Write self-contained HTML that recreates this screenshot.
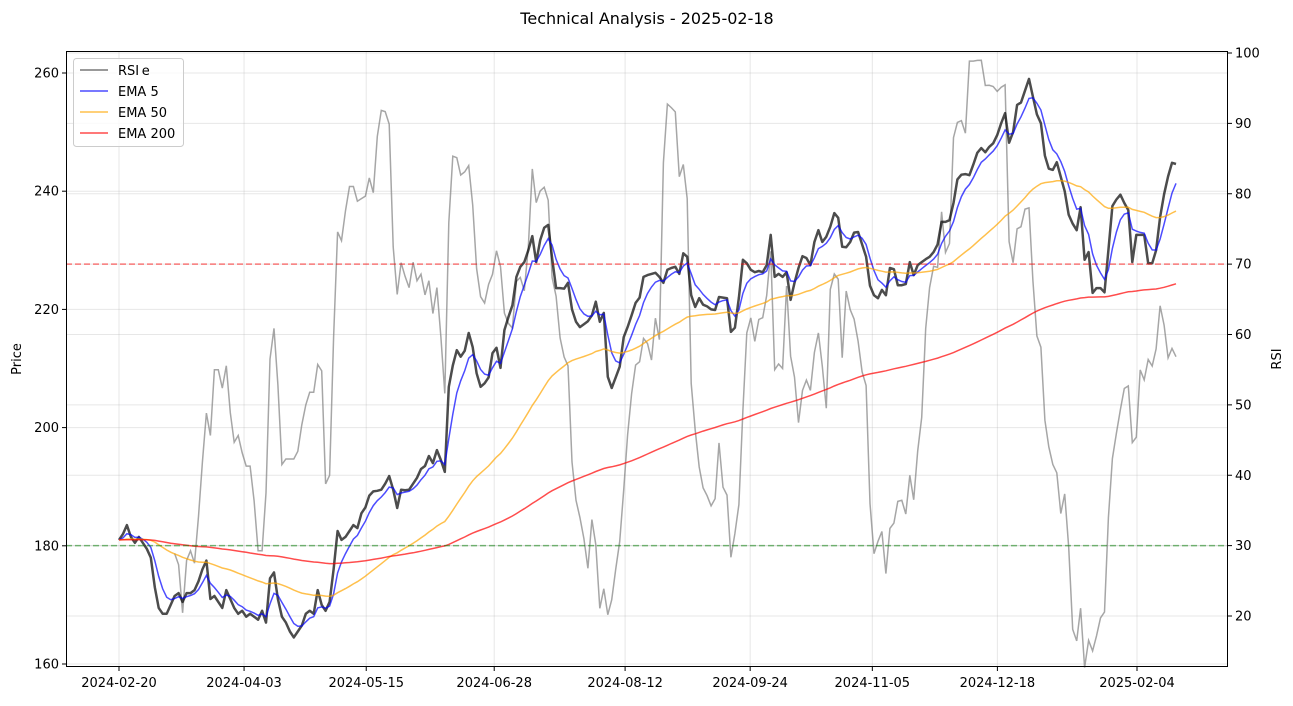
<!DOCTYPE html>
<html><head><meta charset="utf-8"><style>
body{margin:0;background:#fff;font-family:"Liberation Sans","DejaVu Sans",sans-serif;}
svg text{font-family:"DejaVu Sans","Liberation Sans",sans-serif;}
</style></head><body>
<svg id="chart" width="1293" height="701" xmlns="http://www.w3.org/2000/svg">
<text x="647" y="24" text-anchor="middle" font-size="16">Technical Analysis - 2025-02-18</text>
<g id="grid"></g>
<g id="series"></g>
<rect x="66.5" y="51.5" width="1161" height="615" fill="none" stroke="#000" stroke-width="1"/>
<g id="axes"></g>
<text transform="translate(21,359) rotate(-90)" text-anchor="middle" font-size="13">Price</text>
<text transform="translate(1281,359) rotate(-90)" text-anchor="middle" font-size="13">RSI</text>
<g id="legend">
<rect x="73.5" y="58.5" width="110" height="88" rx="3" fill="#fff" fill-opacity="0.8" stroke="#ccc"/>
<line x1="80" y1="70" x2="108" y2="70" stroke="gray" stroke-opacity="0.8" stroke-width="2"/>
<text x="118" y="75" font-size="13">Price</text>
<rect x="117" y="62" width="24" height="16" fill="#fff"/>
<text x="118" y="75" font-size="13">RSI</text>
<line x1="80" y1="91" x2="108" y2="91" stroke="blue" stroke-opacity="0.7" stroke-width="1.5"/>
<text x="118" y="96" font-size="13">EMA 5</text>
<line x1="80" y1="112" x2="108" y2="112" stroke="orange" stroke-opacity="0.7" stroke-width="1.5"/>
<text x="118" y="117" font-size="13">EMA 50</text>
<line x1="80" y1="133" x2="108" y2="133" stroke="red" stroke-opacity="0.7" stroke-width="1.5"/>
<text x="118" y="138" font-size="13">EMA 200</text>
</g>
</svg>
<script>
const closes=[181,182,183.5,181.5,180.5,181.5,180.5,179.5,178,173,169.5,168.5,168.5,170,171.5,172,170.5,172,172,172.5,174,176,177.5,171,171.5,170.5,169.5,172.5,171,169.5,168.5,169,168,168.5,168,167.5,169,167,174.5,175.5,171,168,167,165.5,164.5,165.5,166.5,168.5,169,168.5,172.5,170,169,170.5,176,182.5,181,181.5,182.5,183.5,183,185.5,186.5,188.5,189.2,189.3,189.5,190.5,191.8,189.5,186.4,189.5,189.4,189.5,190.5,191.5,193,193.5,195.2,194,196.2,194.5,192.5,206.9,210.5,213.1,212,213,216,213.6,209.2,206.9,207.5,208.5,212.6,213.5,210.1,216.5,218.7,220.7,225.5,227.2,228,230,232.4,228,231.7,233.8,234.3,228.7,223.6,223.6,223.5,224.5,220,217.9,217,217.5,218,219,221.3,217.9,219.4,208.6,206.7,208.5,210.3,215.3,217,219,221.1,222,225.5,225.8,226,226.2,225.5,224.5,226.7,227,227.2,226,229.5,228.9,222.4,220.4,221.9,220.8,220.5,220,219.9,222.1,222,221.9,216.2,216.9,222,228.4,227.8,226.7,226.3,226.5,226.3,227.5,232.6,225.5,226,225.5,226.3,221.6,224.5,227,229,228.7,227.5,231.4,233.4,231.4,232.3,234,236.3,235.5,230.6,230.5,231.4,233,233.1,231,228.9,224,222.4,221.9,223.3,222.4,227,226.8,224.1,224.1,224.3,228,225.8,227.5,228,228.5,228.9,229.7,231,234.8,234.8,235.1,238,242,242.8,242.9,242.7,244.5,246.5,247.3,246.6,247.5,248.1,249.5,251.5,253.2,248.2,250,254.6,255,257,259,256,253,251.5,246,243.8,243.6,244.9,242.4,240,236,234.5,233.4,237.3,228.4,229.7,222.8,223.6,223.6,222.9,230,237.5,238.6,239.4,238,236.8,228,232.6,232.6,232.6,227.8,227.8,230,235.6,239.5,242.5,244.8,244.6];
const tickDates=["2024-02-20","2024-04-03","2024-05-15","2024-06-28","2024-08-12","2024-09-24","2024-11-05","2024-12-18","2025-02-04"];
const priceTicks=[160,180,200,220,240,260];
const rsiTicks=[20,30,40,50,60,70,80,90,100];
const rsiLevels=[70,30];
const emaSpans=[5,50,200];

const NS="http://www.w3.org/2000/svg";
const L=66,R=1228,T=51,B=667;
const xFirst=119,xLast=1176;
const xIdx=i=>xFirst+i*(xLast-xFirst)/(closes.length-1);
const d0=Date.parse("2024-02-20"),pxPerDay=2.9086;
const xDate=s=>xFirst+(Date.parse(s)-d0)/86400000*pxPerDay;
const yP=v=>73+(260-v)*5.91;
const yR=v=>53+(100-v)*7.0375;
function mk(tag,attrs,parent){const e=document.createElementNS(NS,tag);for(const k in attrs)e.setAttribute(k,attrs[k]);parent.appendChild(e);return e;}
const grid=document.getElementById('grid'),axes=document.getElementById('axes'),series=document.getElementById('series');

tickDates.forEach(d=>{const x=xDate(d);
 const g=mk('line',{x1:x,x2:x,y1:T,y2:B,stroke:'#b0b0b0','stroke-opacity':0.3,'stroke-width':1},grid);
 
 mk('line',{x1:x,x2:x,y1:B,y2:B+4,stroke:'#000'},axes);
 const t=mk('text',{x:x,y:B+20,'text-anchor':'middle','font-size':13},axes);t.textContent=d;
 });
priceTicks.forEach(v=>{const y=yP(v);
 const g=mk('line',{x1:L,x2:R,y1:y,y2:y,stroke:'#b0b0b0','stroke-opacity':0.3},grid);
 
 mk('line',{x1:L-4,x2:L,y1:y,y2:y,stroke:'#000'},axes);
 const t=mk('text',{x:L-7,y:y+4.5,'text-anchor':'end','font-size':13},axes);t.textContent=v;
 });
rsiTicks.forEach(v=>{const y=yR(v);
 const g=mk('line',{x1:L,x2:R,y1:y,y2:y,stroke:'#b0b0b0','stroke-opacity':0.3},grid);
 
 mk('line',{x1:R,x2:R+4,y1:y,y2:y,stroke:'#000'},axes);
 const t=mk('text',{x:R+7,y:y+4.5,'font-size':13},axes);t.textContent=v;
 });

function ema(arr,span){const a=2/(span+1);const o=[arr[0]];for(let i=1;i<arr.length;i++)o.push(a*arr[i]+(1-a)*o[i-1]);return o;}
function rsi(arr,n){const o=[];for(let i=0;i<arr.length;i++){if(i<n){o.push(null);continue;}let g=0,l=0;for(let j=i-n+1;j<=i;j++){const d=arr[j]-arr[j-1];if(d>0)g+=d;else l-=d;}o.push(l===0?100:100-100/(1+g/l));}return o;}
function path(vals,yf){let d='';vals.forEach((v,i)=>{if(v===null)return;d+=(d?'L':'M')+xIdx(i).toFixed(1)+','+yf(v).toFixed(1);});return d;}

const rsiVals=rsi(closes,14);
const rl=mk('path',{d:path(rsiVals,yR),fill:'none',stroke:'gray','stroke-opacity':0.7,'stroke-width':1.5},series);

const cl=mk('path',{d:path(closes,yP),fill:'none',stroke:'#000','stroke-opacity':0.7,'stroke-width':2.5,'stroke-linejoin':'round'},series);

const cols=['blue','orange','red'];
emaSpans.forEach((s,k)=>{const p=mk('path',{d:path(ema(closes,s),yP),fill:'none',stroke:cols[k],'stroke-opacity':0.7,'stroke-width':1.5},series);
 });
rsiLevels.forEach((v,k)=>{const y=yR(v);
 const l=mk('line',{x1:L,x2:R,y1:y,y2:y,stroke:k===0?'red':'green','stroke-opacity':0.5,'stroke-width':1.5,'stroke-dasharray':'6,3'},series);
 });
</script>
</body></html>
